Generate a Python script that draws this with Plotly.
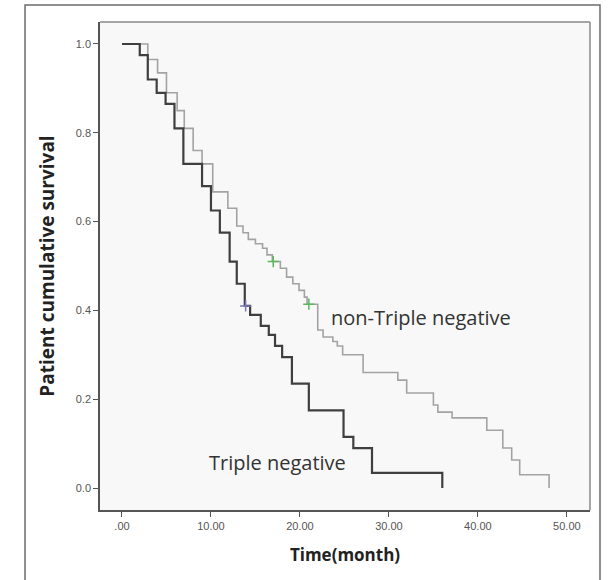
import plotly.graph_objects as go

# Triple negative (dark) Kaplan-Meier steps
tn_time = [0, 2.0, 2.9, 3.9, 4.9, 5.9, 6.9, 9.0, 10.0, 11.0, 12.1, 12.9, 13.8, 14.4, 15.6, 16.5, 17.2, 18.0, 19.1, 21.0, 24.9, 26.0, 28.1, 36.0]
tn_surv = [1.0, 0.975, 0.92, 0.89, 0.865, 0.81, 0.73, 0.68, 0.625, 0.575, 0.51, 0.46, 0.41, 0.39, 0.365, 0.345, 0.32, 0.295, 0.235, 0.175, 0.115, 0.09, 0.034, 0.0]

# non-Triple negative (gray) Kaplan-Meier steps
ntn_time = [0, 2.9, 4.0, 5.0, 6.2, 7.0, 8.0, 9.0, 10.2, 11.9, 12.9, 13.6, 14.2, 15.0, 15.8, 16.3, 16.9, 17.8, 18.5, 19.2, 19.9, 20.5, 20.8,
            22.0, 22.6, 23.7, 24.2, 24.8, 27.1, 31.0, 32.0, 35.0, 35.5, 37.1, 41.0, 42.8, 43.8, 44.7, 48.0]
ntn_surv = [1.0, 0.965, 0.935, 0.89, 0.85, 0.81, 0.76, 0.73, 0.667, 0.63, 0.59, 0.575, 0.56, 0.55, 0.54, 0.525, 0.51, 0.495, 0.475, 0.46, 0.445, 0.43, 0.414,
            0.356, 0.34, 0.33, 0.32, 0.30, 0.26, 0.243, 0.214, 0.187, 0.171, 0.158, 0.13, 0.09, 0.063, 0.03, 0.0]

# censored observations
tn_cens_t = [13.9]
tn_cens_s = [0.41]
ntn_cens_t = [17.0, 21.0]
ntn_cens_s = [0.51, 0.414]

x_ticks = [0, 10, 20, 30, 40, 50]
x_labels = [".00", "10.00", "20.00", "30.00", "40.00", "50.00"]
y_ticks = [0.0, 0.2, 0.4, 0.6, 0.8, 1.0]
y_labels = ["0.0", "0.2", "0.4", "0.6", "0.8", "1.0"]

fig = go.Figure()
fig.add_trace(go.Scatter(x=ntn_time, y=ntn_surv, mode="lines", line=dict(shape="hv", color="#a3a3a3", width=1.6),
                         name="non-Triple negative", showlegend=False))
fig.add_trace(go.Scatter(x=tn_time, y=tn_surv, mode="lines", line=dict(shape="hv", color="#3f3f3f", width=2.2),
                         name="Triple negative", showlegend=False))
fig.add_trace(go.Scatter(x=ntn_cens_t, y=ntn_cens_s, mode="markers",
                         marker=dict(symbol="cross-thin", size=8, line=dict(color="#5cb85c", width=1.5)), showlegend=False))
fig.add_trace(go.Scatter(x=tn_cens_t, y=tn_cens_s, mode="markers",
                         marker=dict(symbol="cross-thin", size=8, line=dict(color="#7a7ab8", width=1.5)), showlegend=False))

fig.add_annotation(x=23.3, y=0.383, text="non-Triple negative", showarrow=False, xanchor="left",
                   font=dict(family="Open Sans, Liberation Sans, sans-serif", size=20, color="#333333"))
fig.add_annotation(x=9.5, y=0.057, text="Triple negative", showarrow=False, xanchor="left",
                   font=dict(family="Open Sans, Liberation Sans, sans-serif", size=20, color="#333333"))

# outer frame
fig.add_shape(type="rect", xref="paper", yref="paper", x0=-0.153, x1=1.0204, y0=-0.2, y1=1.0348,
              line=dict(color="#6b6b6b", width=1.5), fillcolor="rgba(0,0,0,0)", layer="below")
# plot top/right frame
fig.add_shape(type="line", xref="paper", yref="paper", x0=0, x1=1, y0=1, y1=1, line=dict(color="#8a8a8a", width=1.5))
fig.add_shape(type="line", xref="paper", yref="paper", x0=1, x1=1, y0=0, y1=1, line=dict(color="#8a8a8a", width=1.5))

fig.update_layout(
    width=613, height=580,
    margin=dict(l=100, r=23, t=22, b=70),
    paper_bgcolor="white", plot_bgcolor="#f8f8f8",
    font=dict(family="Liberation Sans, Arial, sans-serif", color="#555555"),
    xaxis=dict(range=[-2.47, 52.6], tickvals=x_ticks, ticktext=x_labels, showgrid=False, zeroline=False,
               showline=True, linecolor="#555555", linewidth=1.5, ticks="outside", ticklen=5, tickcolor="#555555",
               tickfont=dict(size=11, color="#555555"),
               title=dict(text="<b>Time(month)</b>", font=dict(family="Open Sans, Liberation Sans, sans-serif", size=17, color="#222222"), standoff=18)),
    yaxis=dict(range=[-0.0495, 1.0495], tickvals=y_ticks, ticktext=y_labels, showgrid=False, zeroline=False,
               showline=True, linecolor="#555555", linewidth=1.5, ticks="outside", ticklen=5, tickcolor="#555555",
               tickfont=dict(size=11, color="#555555"),
               title=dict(text="<b>Patient cumulative survival</b>", font=dict(family="Open Sans, Liberation Sans, sans-serif", size=19, color="#222222"), standoff=16)),
)

fig.write_html("out.html", config={"displayModeBar": False},
               post_script="document.body.style.margin='0px';")
